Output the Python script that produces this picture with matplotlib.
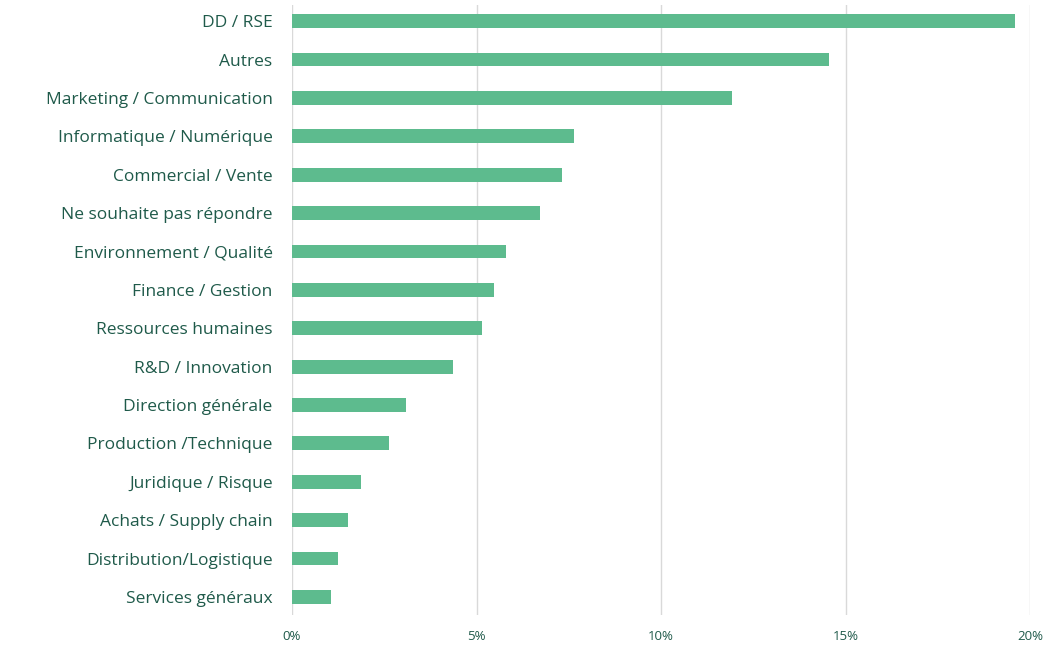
import matplotlib
matplotlib.use("Agg")
import matplotlib.pyplot as plt
from matplotlib.ticker import FuncFormatter

categories = [
    "DD / RSE", "Autres", "Marketing / Communication", "Informatique / Numérique",
    "Commercial / Vente", "Ne souhaite pas répondre", "Environnement / Qualité",
    "Finance / Gestion", "Ressources humaines", "R&D / Innovation",
    "Direction générale", "Production /Technique", "Juridique / Risque",
    "Achats / Supply chain", "Distribution/Logistique", "Services généraux",
]
values = [19.6, 14.55, 11.92, 7.64, 7.32, 6.72, 5.80, 5.47, 5.15, 4.36,
          3.09, 2.63, 1.87, 1.52, 1.25, 1.06]
xticks = [0, 5, 10, 15, 20]

plt.rcParams['font.family'] = ['Open Sans', 'DejaVu Sans']
text_color = "#1f5a4a"
bar_color = "#5dbb8e"

fig = plt.figure(figsize=(10.47, 6.49), dpi=100)
ax = fig.add_axes([292/1047, 1-615/649, (1030-292)/1047, 610/649])

ypos = list(range(len(categories)))
ax.barh(ypos, values, height=0.36, color=bar_color, zorder=3)
ax.set_yticks(ypos)
ax.set_yticklabels(categories, fontsize=12.5, color=text_color)
ax.set_ylim(15.47, -0.42)
ax.set_xlim(0, 20)
ax.set_xticks(xticks)
ax.xaxis.set_major_formatter(FuncFormatter(lambda v, p: f"{int(v)}%"))
ax.tick_params(axis='x', labelsize=9.5, colors=text_color, length=0, pad=11)
ax.tick_params(axis='y', length=0, pad=14)
for lbl in ax.get_xticklabels():
    lbl.set_color(text_color)
ax.grid(axis='x', color="#d9d9d9", linewidth=1, zorder=0)
for s in ax.spines.values():
    s.set_visible(False)

fig.savefig("out.png", dpi=100, facecolor="white")
